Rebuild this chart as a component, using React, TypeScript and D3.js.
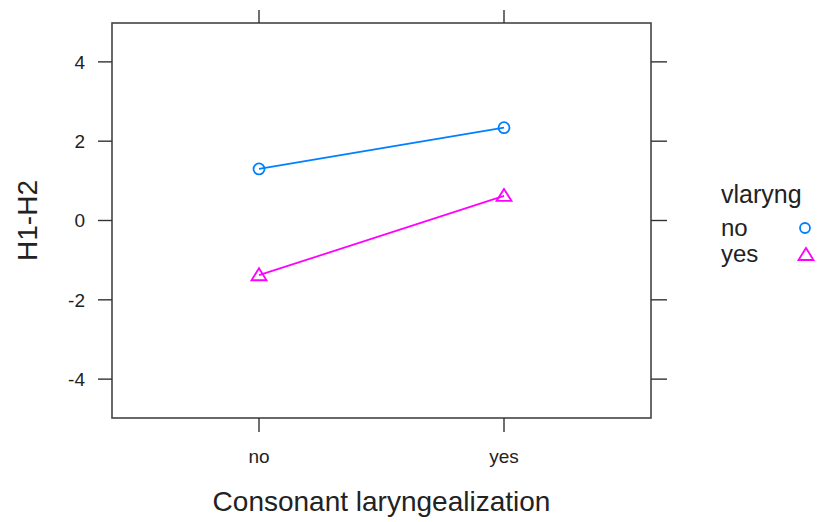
import React from "react";
import * as d3 from "d3";

const categories = ["no", "yes"];
const seriesNames = ["no", "yes"];
const seriesNo = [1.3, 2.34];
const seriesYes = [-1.38, 0.62];
const yTicks = [-4, -2, 0, 2, 4];
const colors = ["#0080ff", "#ff00ff"];

export default function App() {
  const W = 820, H = 522;
  const left = 112, right = 651, top = 23, bottom = 418;
  const x = d3.scaleLinear().domain([0.4, categories.length + 0.6]).range([left, right]);
  const y = d3.scaleLinear().domain([-4.98, 4.98]).range([bottom, top]);
  const line = d3.line<number>().x((_, i) => x(i + 1)).y((d) => y(d));
  const series = [seriesNo, seriesYes];
  const font = "Liberation Sans, Arial, Helvetica, sans-serif";
  // open triangle marker centred on (cx, cy)
  const tri = (cx: number, cy: number) =>
    `M${cx},${cy - 7}L${cx + 7.5},${cy + 5}L${cx - 7.5},${cy + 5}Z`;

  return (
    <svg width={W} height={H} style={{ position: "absolute", left: 0, top: 0, background: "#fff" }} fontFamily={font}>
      <rect x={left} y={top} width={right - left} height={bottom - top} fill="none" stroke="#444" strokeWidth={1.6} />
      {yTicks.map((t) => (
        <g key={t}>
          <line x1={left - 14} x2={left} y1={y(t)} y2={y(t)} stroke="#333" strokeWidth={1.4} />
          <line x1={right} x2={right + 16} y1={y(t)} y2={y(t)} stroke="#333" strokeWidth={1.4} />
          <text x={85} y={y(t)} dy="0.36em" textAnchor="end" fontSize={19} fill="#222">{t}</text>
        </g>
      ))}
      {categories.map((c, i) => (
        <g key={c}>
          <line x1={x(i + 1)} x2={x(i + 1)} y1={bottom} y2={bottom + 14} stroke="#333" strokeWidth={1.4} />
          <line x1={x(i + 1)} x2={x(i + 1)} y1={top - 13} y2={top} stroke="#333" strokeWidth={1.4} />
          <text x={x(i + 1)} y={463} textAnchor="middle" fontSize={19} fill="#222">{c}</text>
        </g>
      ))}
      <text x={(left + right) / 2} y={511} textAnchor="middle" fontSize={28} fill="#222">Consonant laryngealization</text>
      <text transform={`translate(37,${(top + bottom) / 2}) rotate(-90)`} textAnchor="middle" fontSize={28} fill="#222">H1-H2</text>
      {series.map((s, k) => (
        <g key={k}>
          <path d={line(s) || ""} fill="none" stroke={colors[k]} strokeWidth={1.8} />
          {s.map((v, i) =>
            k === 0 ? (
              <circle key={i} cx={x(i + 1)} cy={y(v)} r={5.5} fill="none" stroke={colors[k]} strokeWidth={1.8} />
            ) : (
              <path key={i} d={tri(x(i + 1), y(v))} fill="none" stroke={colors[k]} strokeWidth={1.8} />
            )
          )}
        </g>
      ))}
      <text x={721} y={203} fontSize={25} fill="#222">vlaryng</text>
      {seriesNames.map((n, k) => (
        <g key={n}>
          <text x={721} y={236 + k * 26} fontSize={24} fill="#222">{n}</text>
          {k === 0 ? (
            <circle cx={805} cy={228} r={5} fill="none" stroke={colors[0]} strokeWidth={1.8} />
          ) : (
            <path d={tri(806, 255)} fill="none" stroke={colors[1]} strokeWidth={1.8} />
          )}
        </g>
      ))}
    </svg>
  );
}
